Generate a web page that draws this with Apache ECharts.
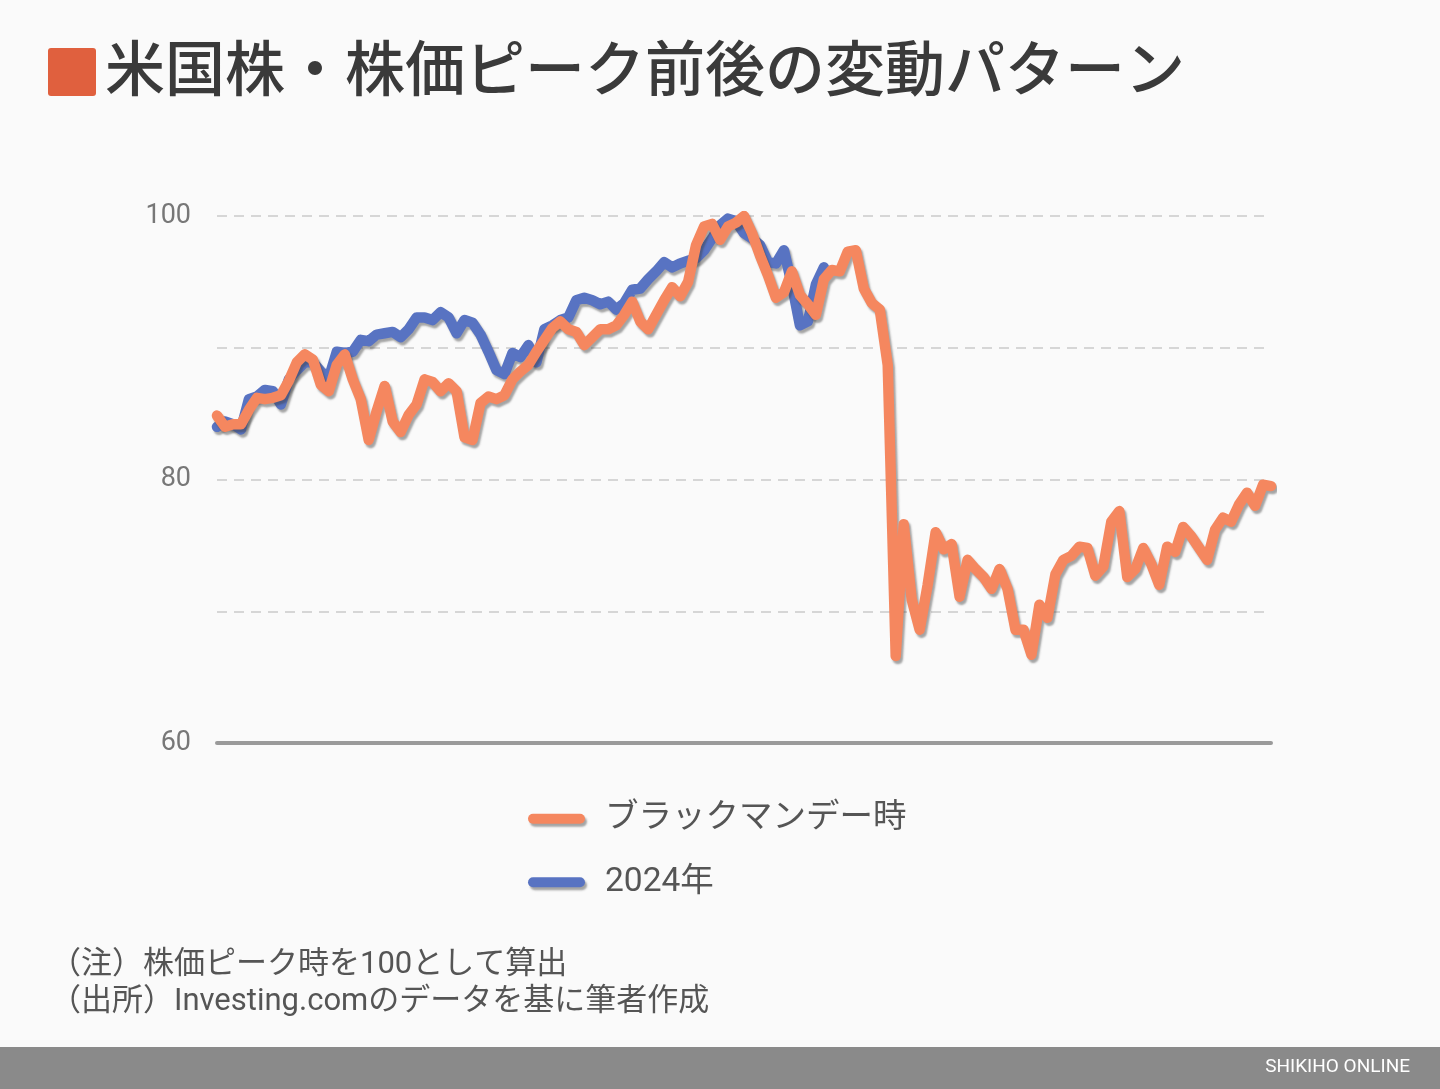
<!DOCTYPE html>
<html>
<head>
<meta charset="utf-8">
<script src="https://cdn.jsdelivr.net/npm/echarts@6/dist/echarts.min.js"></script>
<style>
html,body{margin:0;padding:0;background:#fafafa;}
#chart{width:1440px;height:1089px;}
</style>
</head>
<body>
<div id="chart"></div>
<script>
// Index (trading-day samples) around the peak; peak = 100
const categories = Array.from({length: 133}, (_, i) => String(i));

const blackMonday = [
  84.85, 84.0, 84.2, 84.2, 85.3, 86.2, 86.1, 86.2, 86.4, 87.5,
  88.9, 89.5, 89.1, 87.2, 86.7, 88.7, 89.5, 87.6, 86.1, 83.0,
  85.2, 87.1, 84.4, 83.6, 84.9, 85.7, 87.6, 87.4, 86.7, 87.3,
  86.7, 83.2, 83.0, 85.8, 86.3, 86.1, 86.4, 87.6, 88.2, 88.7,
  89.7, 90.6, 91.5, 92.0, 91.4, 91.2, 90.2, 90.8, 91.4, 91.4,
  91.7, 92.5, 93.5, 92.0, 91.4, 92.5, 93.6, 94.6, 93.9, 95.0,
  97.8, 99.2, 99.4, 98.2, 99.2, 99.5, 100.0, 98.7, 97.0, 95.5,
  93.8, 94.2, 95.8, 94.0, 93.3, 92.5, 95.2, 95.9, 95.8, 97.3,
  97.4, 94.5, 93.4, 92.9, 88.7, 66.6, 76.6, 70.9, 68.6, 72.0,
  76.0, 74.7, 75.1, 71.1, 73.9, 73.2, 72.6, 71.7, 73.2, 71.7,
  68.6, 68.6, 66.7, 70.5, 69.5, 72.8, 73.9, 74.2, 74.9, 74.8,
  72.7, 73.4, 76.8, 77.6, 72.6, 73.2, 74.8, 73.6, 72.0, 74.9,
  74.5, 76.4, 75.7, 74.8, 73.9, 76.2, 77.1, 76.8, 78.1, 79.0,
  78.0, 79.6, 79.5
];

const year2024 = [
  84.0, 84.4, 84.2, 83.8, 86.1, 86.3, 86.8, 86.7, 85.7, 87.6,
  88.3, 88.9, 88.9, 88.2, 87.7, 89.7, 89.6, 89.7, 90.6, 90.5,
  91.0, 91.1, 91.2, 90.8, 91.4, 92.3, 92.3, 92.1, 92.7, 92.3,
  91.1, 92.1, 91.9, 91.0, 89.7, 88.3, 88.0, 89.6, 89.3, 90.2,
  88.9, 91.4, 91.7, 92.1, 92.3, 93.6, 93.8, 93.6, 93.3, 93.5,
  92.9, 93.4, 94.4, 94.5, 95.2, 95.8, 96.5, 96.1, 96.4, 96.6,
  96.8, 97.4, 98.3, 99.3, 99.8, 99.6, 98.7, 98.3, 97.8, 96.5,
  96.4, 97.4, 94.8, 91.7, 92.0, 94.8, 96.1
];

const yTickLabels = ['60', '80', '100'];
const seriesNames = ['ブラックマンデー時', '2024年'];
const titleText = '米国株・株価ピーク前後の変動パターン';
const noteLines = ['（注）株価ピーク時を100として算出', '（出所）Investing.comのデータを基に筆者作成'];
const footerText = 'SHIKIHO ONLINE';

const FONT = "Roboto, 'Noto Sans CJK JP', sans-serif";
const ORANGE = '#F5875F';
const BLUE = '#5873C2';
const shadow = {shadowColor: 'rgba(60,60,60,0.45)', shadowBlur: 2, shadowOffsetX: 2, shadowOffsetY: 3};

const chart = echarts.init(document.getElementById('chart'), null, {renderer: 'canvas'});
chart.setOption({
  backgroundColor: '#fafafa',
  animation: false,
  grid: {left: 217, right: 169, top: 216, bottom: 346, containLabel: false},
  xAxis: {
    type: 'category',
    data: categories,
    boundaryGap: false,
    axisLine: {show: true, lineStyle: {color: '#9a9a9a', width: 4}},
    axisTick: {show: false},
    axisLabel: {show: false},
    splitLine: {show: false}
  },
  yAxis: {
    type: 'value',
    min: 60, max: 100, interval: 10,
    axisLine: {show: false},
    axisTick: {show: false},
    axisLabel: {
      color: '#777', fontSize: 27, fontFamily: FONT, margin: 26,
      formatter: v => yTickLabels.includes(String(v)) ? String(v) : ''
    },
    splitLine: {lineStyle: {color: '#d6d6d6', width: 2, type: [10, 7]}}
  },
  legend: {
    orient: 'vertical',
    left: 523, top: 797,
    itemWidth: 57, itemHeight: 11,
    itemGap: 30,
    data: seriesNames,
    icon: 'path://M5,0 L52,0 A5,5 0 0 1 52,10 L5,10 A5,5 0 0 1 5,0 Z',
    textStyle: {color: '#555', fontSize: 33.5, fontFamily: FONT, padding: [0, 0, 0, 15]},
    itemStyle: shadow
  },
  series: [
    {
      name: seriesNames[1], type: 'line', data: year2024, symbol: 'none', z: 2,
      lineStyle: Object.assign({color: BLUE, width: 10.5, join: 'round', cap: 'round'}, shadow),
      itemStyle: {color: BLUE}
    },
    {
      name: seriesNames[0], type: 'line', data: blackMonday, symbol: 'none', z: 3,
      lineStyle: Object.assign({color: ORANGE, width: 10.5, join: 'round', cap: 'round'}, shadow),
      itemStyle: {color: ORANGE}
    }
  ],
  graphic: [
    {type: 'rect', left: 48, top: 48, shape: {width: 48, height: 48, r: 3}, style: {fill: '#E0603E'}},
    {type: 'text', left: 105, top: 46, style: {text: titleText, fill: '#3a3a3a', font: '500 60px ' + FONT}},
    {type: 'text', left: 50, top: 950, style: {text: noteLines[0], fill: '#555', font: '31px ' + FONT}},
    {type: 'text', left: 50, top: 987, style: {text: noteLines[1], fill: '#555', font: '31px ' + FONT}},
    {type: 'rect', left: 0, top: 1047, shape: {width: 1440, height: 42}, style: {fill: '#8a8a8a'}},
    {type: 'text', right: 30, top: 1058, style: {text: footerText, fill: '#fff', font: '19px ' + FONT}}
  ]
});
</script>
</body>
</html>
